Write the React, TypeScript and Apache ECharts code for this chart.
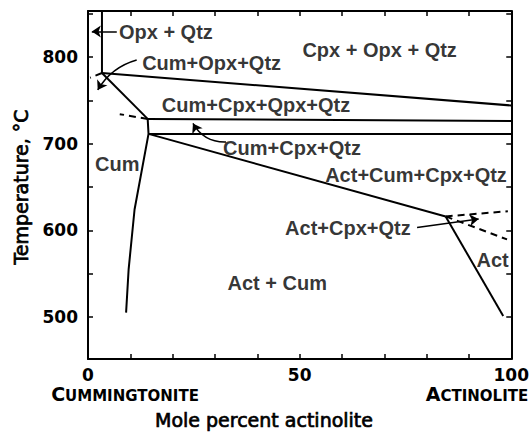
import React, { useEffect, useRef } from 'react';
import * as echarts from 'echarts';

// axis ticks and labels
const xTicks = [0, 10, 20, 30, 40, 50, 60, 70, 80, 90, 100];
const xTickLabels = [0, 50, 100];
const yTicks = [500, 550, 600, 650, 700, 750, 800, 850];
const yTickLabels = [500, 600, 700, 800];

// phase boundaries: [mole % actinolite, temperature °C]
const opxQtzLimit = [[3.3, 853], [3.3, 781.5]];
const cpxOpxLower = [[3.3, 781.5], [100, 744]];
const cumOpxLimb = [[3.3, 781.5], [14.1, 728.5]];
const cumCpxOpxLower = [[14.1, 728.5], [100, 726]];
const cumLimb = [[14.1, 728.5], [14.3, 711.2], [11.0, 624], [9.6, 555], [9.0, 505]];
const cumCpxLower = [[14.3, 711.2], [100, 711.2]];
const actCumCpxLower = [[14.3, 711.2], [84.5, 616]];
const actLimb = [[84.5, 616], [98.1, 501]];
const dashedUpperRight = [[84.5, 616], [99.2, 622]];
const dashedLowerRight = [[84.5, 616], [99.0, 589.5]];
const dashedTopLeft = [[3.3, 781.5], [0.5, 776]];
const dashedMidLeft = [[14.1, 728.5], [7.5, 734]];

// field labels
const fieldNames = [
  'Opx + Qtz',
  'Cum+Opx+Qtz',
  'Cpx + Opx + Qtz',
  'Cum+Cpx+Qpx+Qtz',
  'Cum+Cpx+Qtz',
  'Act+Cum+Cpx+Qtz',
  'Cum',
  'Act+Cpx+Qtz',
  'Act',
  'Act + Cum',
];
const fieldX = [18.4, 29.2, 68.9, 39.7, 48.2, 77.5, 6.9, 61.4, 95.6, 44.7];
const fieldT = [828.3, 793.4, 807.5, 744.6, 695.5, 663.9, 676, 603, 565.8, 538.7];

// leader arrows
const leaderStart = [[6.8, 829.4], [11.5, 796.5], [32.6, 701.9], [77.75, 603.3]];
const leaderEnd = [[0.9, 829.4], [2.3, 761.9], [24.8, 723.3], [92.3, 613.1]];
const leaderCurve = [0, -0.2, 0.3, 0];

const BLACK = '#000';

function boundary(data: number[][], dashed = false) {
  return {
    type: 'line',
    data,
    xAxisIndex: 0,
    yAxisIndex: 0,
    showSymbol: false,
    symbol: 'none',
    silent: true,
    z: 3,
    lineStyle: { color: BLACK, width: 2, type: dashed ? [7, 5] : 'solid' },
  };
}

function xAxisDef(position: 'bottom' | 'top', labels: boolean) {
  return {
    type: 'value',
    min: 0,
    max: 100,
    position,
    axisLine: { show: true, onZero: false, lineStyle: { color: BLACK, width: 2 } },
    axisTick: { show: true, inside: true, length: 5, customValues: xTicks, lineStyle: { color: BLACK, width: 1.5 } },
    axisLabel: labels
      ? { show: true, customValues: xTickLabels, color: BLACK, fontFamily: 'DejaVu Sans', fontWeight: 'bold', fontSize: 17, margin: 7 }
      : { show: false },
    splitLine: { show: false },
  };
}

function yAxisDef(position: 'left' | 'right', labels: boolean) {
  return {
    type: 'value',
    min: 451.5,
    max: 853,
    position,
    axisLine: { show: true, onZero: false, lineStyle: { color: BLACK, width: 2 } },
    axisTick: { show: true, inside: true, length: 5, customValues: yTicks, lineStyle: { color: BLACK, width: 1.5 } },
    axisLabel: labels
      ? { show: true, customValues: yTickLabels, color: BLACK, fontFamily: 'DejaVu Sans', fontWeight: 'bold', fontSize: 17, margin: 10 }
      : { show: false },
    splitLine: { show: false },
  };
}

const smallCapsRich = {
  a: { fontSize: 19, fontFamily: 'DejaVu Sans', fontWeight: 'bold', fill: BLACK, verticalAlign: 'bottom', lineHeight: 20 },
  b: { fontSize: 15, fontFamily: 'DejaVu Sans', fontWeight: 'bold', fill: BLACK, verticalAlign: 'bottom', lineHeight: 20 },
};

export default function App() {
  const ref = useRef<HTMLDivElement>(null);

  useEffect(() => {
    document.body.style.margin = '0';
    if (!ref.current) return;
    const chart = echarts.init(ref.current, null, { renderer: 'svg' });

    const option = {
      animation: false,
      backgroundColor: '#fff',
      grid: { left: 88, right: 17, top: 11, bottom: 79, containLabel: false },
      xAxis: [xAxisDef('bottom', true), xAxisDef('top', false)],
      yAxis: [yAxisDef('left', true), yAxisDef('right', false)],
      series: [
        boundary(opxQtzLimit),
        boundary(cpxOpxLower),
        boundary(cumOpxLimb),
        boundary(cumCpxOpxLower),
        boundary(cumLimb),
        boundary(cumCpxLower),
        boundary(actCumCpxLower),
        boundary(actLimb),
        boundary(dashedUpperRight, true),
        boundary(dashedLowerRight, true),
        boundary(dashedTopLeft, true),
        boundary(dashedMidLeft, true),
        {
          type: 'lines',
          coordinateSystem: 'cartesian2d',
          xAxisIndex: 0,
          yAxisIndex: 0,
          silent: true,
          z: 4,
          symbol: ['none', 'arrow'],
          symbolSize: 9,
          lineStyle: { color: BLACK, width: 1.5, opacity: 1 },
          data: leaderStart.map((s, i) => ({
            coords: [s, leaderEnd[i]],
            lineStyle: { curveness: leaderCurve[i] },
          })),
        },
        {
          type: 'scatter',
          xAxisIndex: 0,
          yAxisIndex: 0,
          silent: true,
          z: 5,
          symbol: 'circle',
          symbolSize: 1,
          itemStyle: { color: 'rgba(0,0,0,0)' },
          label: {
            show: true,
            position: 'inside',
            formatter: '{b}',
            color: BLACK,
            fontFamily: '"Liberation Sans", Arial, sans-serif',
            fontWeight: 'bold',
            fontSize: 20,
          },
          data: fieldNames.map((n, i) => ({ name: n, value: [fieldX[i], fieldT[i]] })),
        },
      ],
      graphic: [
        {
          type: 'text',
          x: 125,
          y: 393,
          style: {
            text: '{a|C}{b|UMMINGTONITE}',
            textAlign: 'center',
            textVerticalAlign: 'middle',
            align: 'center',
            verticalAlign: 'middle',
            fill: BLACK,
            rich: smallCapsRich,
          },
        },
        {
          type: 'text',
          x: 477,
          y: 393,
          style: {
            text: '{a|A}{b|CTINOLITE}',
            textAlign: 'center',
            textVerticalAlign: 'middle',
            align: 'center',
            verticalAlign: 'middle',
            fill: BLACK,
            rich: smallCapsRich,
          },
        },
        {
          type: 'text',
          x: 264,
          y: 420,
          style: {
            text: 'Mole percent actinolite',
            textAlign: 'center',
            textVerticalAlign: 'middle',
            align: 'center',
            verticalAlign: 'middle',
            fill: BLACK,
            stroke: BLACK,
            lineWidth: 0.7,
            font: '19px "DejaVu Sans"',
          },
        },
        {
          type: 'text',
          x: 21,
          y: 187,
          rotation: Math.PI / 2,
          style: {
            text: 'Temperature, °C',
            textAlign: 'center',
            textVerticalAlign: 'middle',
            align: 'center',
            verticalAlign: 'middle',
            fill: BLACK,
            stroke: BLACK,
            lineWidth: 0.7,
            font: '19px "DejaVu Sans"',
          },
        },
      ],
    };

    chart.setOption(option as any);
    return () => chart.dispose();
  }, []);

  return <div ref={ref} style={{ width: 532, height: 438 }} />;
}
